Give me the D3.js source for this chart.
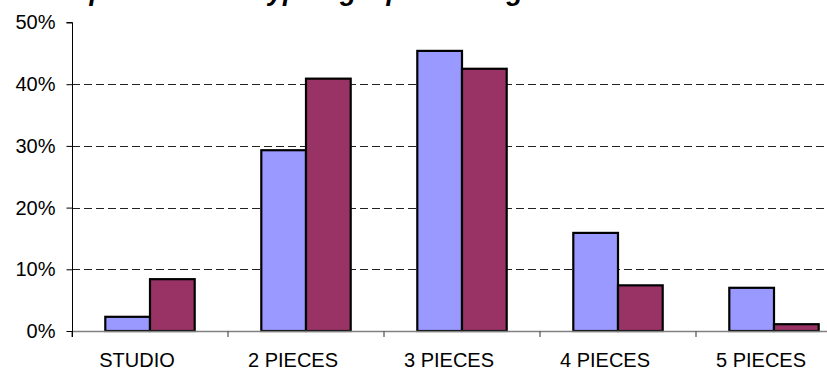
<!DOCTYPE html>
<html>
<head>
<meta charset="utf-8">
<script src="https://cdn.jsdelivr.net/npm/d3@7"></script>
<style>
  html, body { margin: 0; padding: 0; background: #fff; }
  svg { display: block; }
  text { font-family: "Liberation Sans", Arial, sans-serif; fill: #000; }
</style>
</head>
<body>
<div id="chart"></div>
<script>
// Typologies of dwellings and share per household group
const categories = ["STUDIO", "2 PIECES", "3 PIECES", "4 PIECES", "5 PIECES"];
const seriesNames = ["Offre", "Demande"];
const offreValues = [0.023, 0.293, 0.454, 0.159, 0.070];
const demandeValues = [0.084, 0.409, 0.425, 0.074, 0.011];
const yTicks = [0, 0.1, 0.2, 0.3, 0.4, 0.5];
const colors = ["#9999FF", "#993366"];
const titleText = "Répartition des typologie par ménage";

const W = 827, H = 370;
const plotLeft = 72, plotBottom = 331, plotTop = 22.5;
const band = 156;

const svg = d3.select("#chart").append("svg")
  .attr("width", W).attr("height", H);

const x = d3.scaleBand().domain(categories)
  .range([plotLeft, plotLeft + band * categories.length])
  .paddingInner(0).paddingOuter(0);
const x1 = d3.scaleBand().domain(seriesNames)
  .range([0, x.bandwidth()])
  .paddingInner(0).paddingOuter(0.745);
const y = d3.scaleLinear().domain([0, 0.5]).range([plotBottom, plotTop]);

// Title (sits mostly above the visible area)
svg.append("text")
  .attr("x", 55).attr("y", 0)
  .attr("font-size", 27).attr("font-weight", "bold").attr("font-style", "italic")
  .text(titleText);

// Dashed gridlines
svg.append("g").selectAll("line")
  .data(yTicks.filter(t => t > 0 && t < 0.5))
  .join("line")
  .attr("x1", plotLeft).attr("x2", W)
  .attr("y1", d => Math.round(y(d)) + 0.5).attr("y2", d => Math.round(y(d)) + 0.5)
  .attr("stroke", "#222").attr("stroke-width", 1)
  .attr("stroke-dasharray", "8,4");

// Bars
const rows = categories.map((c, i) => ({ cat: c, vals: [offreValues[i], demandeValues[i]] }));
const groups = svg.append("g").selectAll("g")
  .data(rows).join("g")
  .attr("transform", d => `translate(${x(d.cat)},0)`);
groups.selectAll("rect")
  .data(d => d.vals.map((v, j) => ({ key: seriesNames[j], v, j })))
  .join("rect")
  .attr("x", d => x1(d.key))
  .attr("width", x1.bandwidth())
  .attr("y", d => y(d.v))
  .attr("height", d => y(0) - y(d.v))
  .attr("fill", d => colors[d.j])
  .attr("stroke", "#000").attr("stroke-width", 2.2);

// X axis baseline and category ticks
const xAxis = d3.axisBottom(x).tickSize(0).tickFormat(d => d);
const gx = svg.append("g").attr("transform", `translate(0,${plotBottom})`).call(xAxis);
gx.select(".domain").remove();
gx.selectAll("text")
  .attr("font-size", 20).attr("dy", 0).attr("y", 36).attr("dx", -13)
  .style("font-family", "Liberation Sans, Arial, sans-serif").attr("fill", "#000");
svg.append("line")
  .attr("x1", plotLeft).attr("x2", W)
  .attr("y1", plotBottom + 0.5).attr("y2", plotBottom + 0.5)
  .attr("stroke", "#808080").attr("stroke-width", 1.5);
svg.append("g").selectAll("line")
  .data(d3.range(categories.length + 1))
  .join("line")
  .attr("x1", i => plotLeft + i * band).attr("x2", i => plotLeft + i * band)
  .attr("y1", plotBottom).attr("y2", plotBottom + 6)
  .attr("stroke", "#555").attr("stroke-width", 1.2);

// Y axis
const yAxis = d3.axisLeft(y).tickValues(yTicks).tickSize(6).tickPadding(11)
  .tickFormat(d3.format(".0%"));
const gy = svg.append("g").attr("transform", `translate(${plotLeft + 0.5},0)`).call(yAxis);
gy.select(".domain").attr("d", `M-6,${plotTop}H0V${plotBottom + 6}`).attr("stroke", "#000");
gy.selectAll(".tick line").attr("stroke", "#000");
gy.selectAll("text").attr("font-size", 20)
  .style("font-family", "Liberation Sans, Arial, sans-serif").attr("fill", "#000");
</script>
</body>
</html>
